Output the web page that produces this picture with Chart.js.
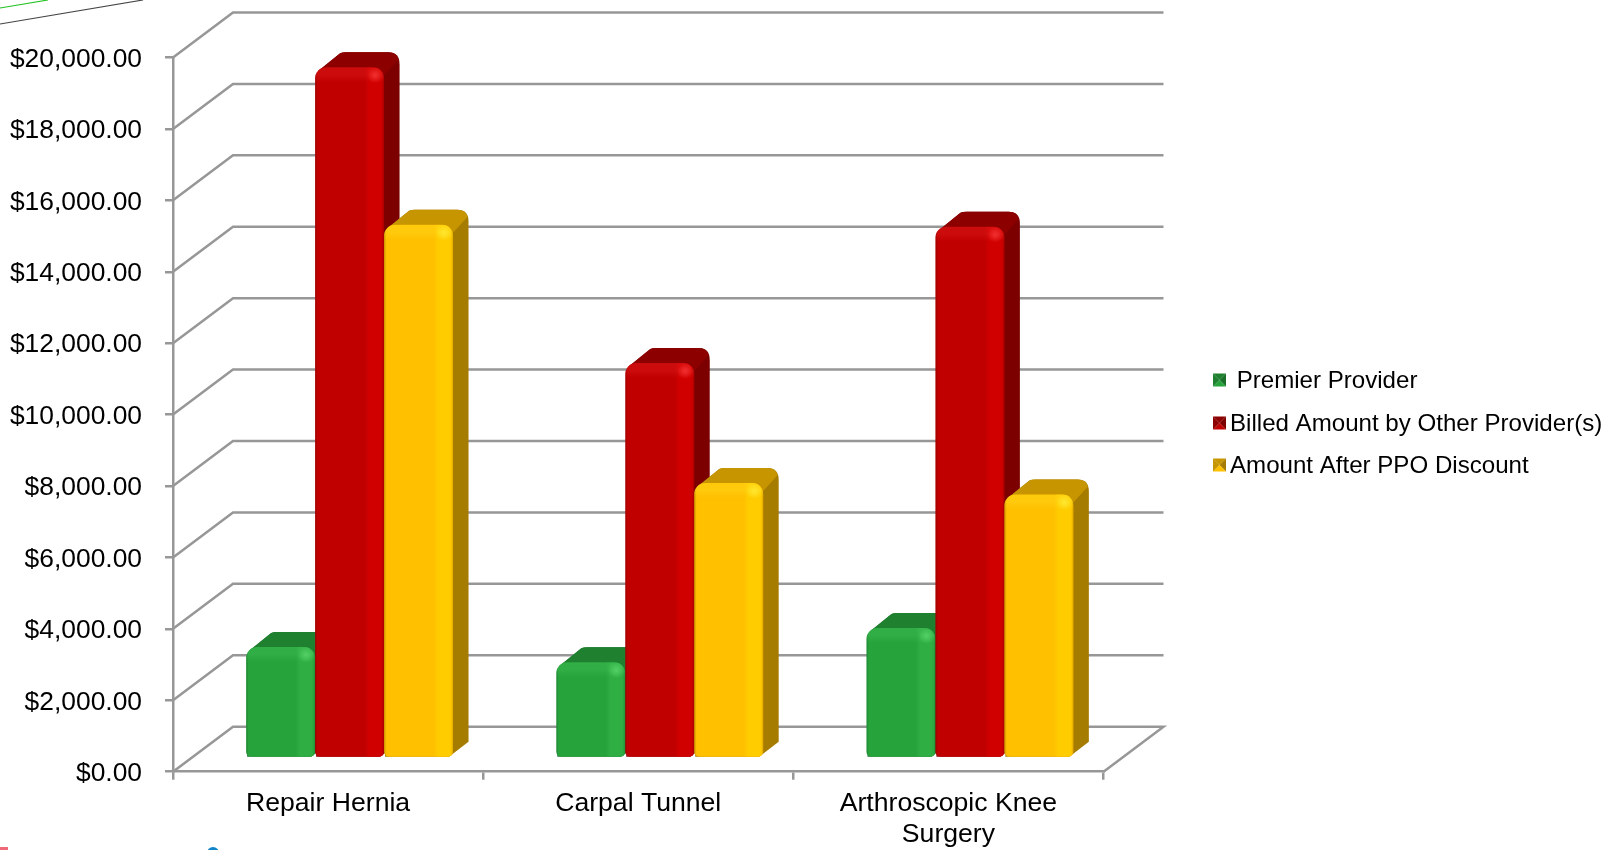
<!DOCTYPE html>
<html>
<head>
<meta charset="utf-8">
<title>Provider cost comparison</title>
<script src="https://cdn.jsdelivr.net/npm/chart.js@4/dist/chart.umd.min.js"></script>
<style>
  html, body { margin: 0; padding: 0; background: #fff; }
  canvas { display: block; }
</style>
</head>
<body>
<canvas id="myChart" width="1617" height="850"></canvas>
<script>
// values
var categories = ['Repair Hernia', 'Carpal Tunnel', ['Arthroscopic Knee', 'Surgery']];
var premierProvider = [3110, 2680, 3640];
var billedAmount = [19340, 11060, 14880];
var afterDiscount = [14930, 7700, 7380];
var seriesNames = [' Premier Provider', 'Billed Amount by Other Provider(s)', 'Amount After PPO Discount'];

var FONT = '"Liberation Sans", Arial, sans-serif';
var GRID = '#979797';
// 3d look of the wall and the bars
var WALL_DX = 60, WALL_DY = 45;
var BAR_SHIFT_X = 21.5, BAR_SHIFT_Y = 13.7;
var DEPTH_X = 15.5, DEPTH_Y = 15;
var RADII = [11, 11, 5, 5];

var looks = [
    { front: '#27a33c', top: '#1f8030', side: '#1a6f29', glow: '#5fdc72', band: '#2fae44' },
    { front: '#c00000', top: '#8c0000', side: '#7c0000', glow: '#ff4040', band: '#d00000' },
    { front: '#ffc000', top: '#c69500', side: '#a67c00', glow: '#fff040', band: '#ffcc00' }
];

function drawWall(chart) {
    var ctx = chart.ctx, y = chart.scales.y, a = chart.chartArea;
    ctx.save();
    ctx.strokeStyle = GRID;
    ctx.lineWidth = 2.5;
    y.ticks.forEach(function (t) {
        var py = y.getPixelForValue(t.value);
        ctx.beginPath();
        ctx.moveTo(a.left, py);
        ctx.lineTo(a.left + WALL_DX, py - WALL_DY);
        ctx.lineTo(a.right + WALL_DX, py - WALL_DY);
        if (t.value === 0) ctx.lineTo(a.right, py);
        ctx.stroke();
    });
    ctx.restore();
}

function backEdge(ctx, L, T) {
    ctx.moveTo(L + 1, T + 8);
    ctx.lineTo(L + 4, T + 3);
    ctx.lineTo(L + 25, T - DEPTH_Y + 1);
    ctx.quadraticCurveTo(L + 27, T - DEPTH_Y, L + 31, T - DEPTH_Y);
}

function drawExtrusion(ctx, bar, look) {
    var L = bar.x - bar.width / 2, R = bar.x + bar.width / 2, T = bar.y, B = bar.base;
    // whole back silhouette in the side colour
    ctx.fillStyle = look.side;
    ctx.beginPath();
    backEdge(ctx, L, T);
    ctx.lineTo(R + DEPTH_X - 11, T - DEPTH_Y);
    ctx.quadraticCurveTo(R + DEPTH_X, T - DEPTH_Y, R + DEPTH_X, T - DEPTH_Y + 12);
    ctx.lineTo(R + DEPTH_X, B - DEPTH_Y);
    ctx.lineTo(R - 4, B);
    ctx.lineTo(L + 1, B);
    ctx.closePath();
    ctx.fill();
    // top face
    ctx.fillStyle = look.top;
    ctx.beginPath();
    backEdge(ctx, L, T);
    ctx.lineTo(R + DEPTH_X - 11, T - DEPTH_Y);
    ctx.quadraticCurveTo(R + DEPTH_X - 3, T - DEPTH_Y, R + DEPTH_X - 1, T - DEPTH_Y + 7);
    ctx.lineTo(R, T + 8);
    ctx.closePath();
    ctx.fill();
}

function drawBevel(ctx, bar, look) {
    var L = bar.x - bar.width / 2, R = bar.x + bar.width / 2, T = bar.y, B = bar.base;
    var w = R - L, g;
    ctx.save();
    ctx.beginPath();
    ctx.roundRect(L, T, w, B - T, RADII);
    ctx.clip();
    // lighter band down the right of the face
    g = ctx.createLinearGradient(L, 0, R, 0);
    g.addColorStop(0.72, look.band + '00');
    g.addColorStop(0.78, look.band + 'ff');
    g.addColorStop(0.95, look.band + 'ff');
    g.addColorStop(1, look.band + '00');
    ctx.fillStyle = g;
    ctx.fillRect(L, T, w, B - T);
    // soft dark rims left and right
    g = ctx.createLinearGradient(L, 0, R, 0);
    g.addColorStop(0, 'rgba(0,0,0,0.2)');
    g.addColorStop(0.035, 'rgba(0,0,0,0)');
    g.addColorStop(0.97, 'rgba(0,0,0,0)');
    g.addColorStop(1, 'rgba(0,0,0,0.12)');
    ctx.fillStyle = g;
    ctx.fillRect(L, T, w, B - T);
    // light strip along the top edge
    g = ctx.createLinearGradient(0, T, 0, T + 15);
    g.addColorStop(0, look.glow + '30');
    g.addColorStop(0.5, look.glow + '30');
    g.addColorStop(1, look.glow + '00');
    ctx.fillStyle = g;
    ctx.fillRect(L, T, w, 15);
    // glint on the corner
    g = ctx.createRadialGradient(R - 9, T + 8, 0, R - 9, T + 8, 8);
    g.addColorStop(0, look.glow + 'b0');
    g.addColorStop(1, look.glow + '00');
    ctx.fillStyle = g;
    ctx.fillRect(R - 18, T, 18, 18);
    ctx.restore();
}

// the bars go left to right, each one covers the side of the one before
var bars3d = {
    id: 'bars3d',
    beforeDatasetsDraw: function (chart) {
        var ctx = chart.ctx;
        drawWall(chart);
        ctx.save();
        ctx.translate(BAR_SHIFT_X, -BAR_SHIFT_Y);
        chart.data.datasets.forEach(function (ds, i) {
            var meta = chart.getDatasetMeta(i);
            meta.data.forEach(function (bar) { drawExtrusion(ctx, bar, looks[i]); });
            meta.controller.draw();
            meta.data.forEach(function (bar) { drawBevel(ctx, bar, looks[i]); });
        });
        ctx.restore();
        return false;
    }
};

// y labels sit a little under their ticks in the original
var labelNudge = {
    id: 'labelNudge',
    beforeDraw: function (chart) {
        var s = chart.scales.y;
        s._labelItems = null;
        s.getLabelItems(chart.chartArea).forEach(function (item) {
            item.options.translation = [item.options.translation[0], item.options.translation[1] + 2];
        });
    }
};

function drawMarker(ctx, x, y, s, look) {
    var cx = x + s / 2, cy = y + s / 2;
    var parts = [
        [x, y, x + s, y, look.top],
        [x + s, y, x + s, y + s, look.side],
        [x + s, y + s, x, y + s, look.front],
        [x, y + s, x, y, look.top]
    ];
    parts.forEach(function (p) {
        ctx.fillStyle = p[4];
        ctx.beginPath();
        ctx.moveTo(p[0], p[1]);
        ctx.lineTo(p[2], p[3]);
        ctx.lineTo(cx, cy);
        ctx.closePath();
        ctx.fill();
    });
}

var sideLegend = {
    id: 'sideLegend',
    afterDraw: function (chart) {
        var ctx = chart.ctx;
        var rows = [380, 423, 465];
        ctx.save();
        ctx.font = '24.1px ' + FONT;
        ctx.textBaseline = 'middle';
        chart.data.datasets.forEach(function (ds, i) {
            drawMarker(ctx, 1213, rows[i] - 6.5, 13, looks[i]);
            ctx.fillStyle = '#000';
            ctx.fillText(ds.label, 1230, rows[i] + 1);
        });
        ctx.restore();
    }
};

// bits of the slide that was cropped around the chart
var slideEdges = {
    id: 'slideEdges',
    beforeDraw: function (chart) {
        var ctx = chart.ctx;
        ctx.save();
        ctx.lineWidth = 1.2;
        ctx.strokeStyle = '#22c322';
        ctx.beginPath(); ctx.moveTo(0, 8); ctx.lineTo(48, 0); ctx.stroke();
        ctx.strokeStyle = '#444';
        ctx.beginPath(); ctx.moveTo(0, 24); ctx.lineTo(143, 0); ctx.stroke();
        ctx.fillStyle = '#ef6a78';
        ctx.fillRect(0, 847, 8, 3);
        ctx.fillStyle = '#1284c8';
        ctx.beginPath(); ctx.arc(213, 853, 6, 0, Math.PI * 2); ctx.fill();
        ctx.restore();
    }
};

var ctx = document.getElementById('myChart').getContext('2d');
var chart = new Chart(ctx, {
    type: 'bar',
    data: {
        labels: categories,
        datasets: [
            { label: seriesNames[0], data: premierProvider, backgroundColor: looks[0].front },
            { label: seriesNames[1], data: billedAmount, backgroundColor: looks[1].front },
            { label: seriesNames[2], data: afterDiscount, backgroundColor: looks[2].front }
        ]
    },
    plugins: [slideEdges, labelNudge, bars3d, sideLegend],
    options: {
        responsive: false,
        animation: false,
        layout: { autoPadding: false, padding: { top: 57.5, right: 513.5, bottom: 0, left: 0 } },
        datasets: {
            bar: {
                barPercentage: 1,
                categoryPercentage: 0.667,
                borderWidth: 0,
                borderSkipped: false,
                borderRadius: { topLeft: RADII[0], topRight: RADII[1], bottomLeft: RADII[2], bottomRight: RADII[3] }
            }
        },
        plugins: { legend: { display: false }, tooltip: { enabled: false } },
        scales: {
            x: {
                afterFit: function (s) { s.height = 78.3; },
                grid: { drawOnChartArea: false, color: GRID, lineWidth: 2.5, tickLength: 8 },
                border: { color: GRID, width: 2.5 },
                ticks: {
                    color: '#000',
                    maxRotation: 0,
                    padding: 8,
                    font: { family: FONT, size: 26.6, lineHeight: 1.17 }
                }
            },
            y: {
                min: 0,
                max: 20000,
                afterFit: function (s) { s.width = 173; },
                grid: { drawOnChartArea: false, color: GRID, lineWidth: 2.5, tickLength: 8 },
                border: { color: GRID, width: 2.5 },
                ticks: {
                    stepSize: 2000,
                    color: '#000',
                    padding: 23,
                    font: { family: FONT, size: 26.4 },
                    callback: function (v) {
                        return '$' + v.toLocaleString('en-US', { minimumFractionDigits: 2 });
                    }
                }
            }
        }
    }
});
</script>
</body>
</html>
